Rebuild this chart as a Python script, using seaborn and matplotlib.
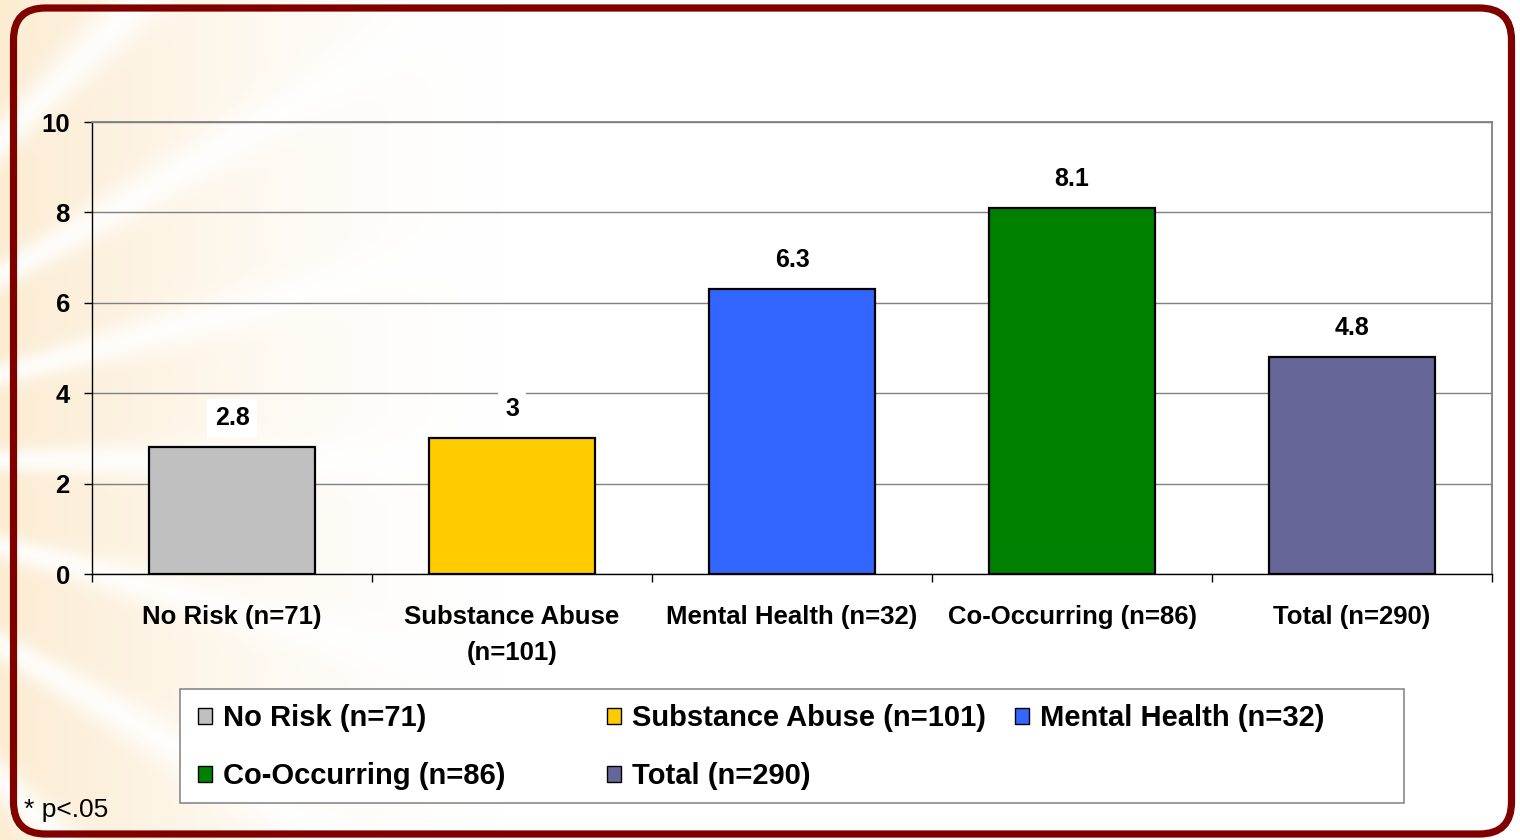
import numpy as np
import matplotlib
matplotlib.use("Agg")
import matplotlib.pyplot as plt
from matplotlib.patches import FancyBboxPatch, Rectangle, Patch
import seaborn as sns

# ---- data ----
categories = ["No Risk (n=71)", "Substance Abuse (n=101)", "Mental Health (n=32)",
              "Co-Occurring (n=86)", "Total (n=290)"]
tick_labels = ["No Risk (n=71)", "Substance Abuse\n(n=101)", "Mental Health (n=32)",
               "Co-Occurring (n=86)", "Total (n=290)"]
values = [2.8, 3, 6.3, 8.1, 4.8]
colors = ["#C0C0C0", "#FFCC00", "#3366FF", "#008000", "#666699"]
y_ticks = [0, 2, 4, 6, 8, 10]
footnote = "* p<.05"

sns.set_theme(style="white")
plt.rcParams["font.family"] = ["Liberation Sans", "DejaVu Sans"]
plt.rcParams["text.color"] = "black"
plt.rcParams["xtick.color"] = "black"
plt.rcParams["ytick.color"] = "black"

W, H = 1520, 840
fig = plt.figure(figsize=(W / 100, H / 100), dpi=100)

# ---- backdrop: warm sunburst on the left, framed by a rounded border ----
bg = fig.add_axes([0, 0, 1, 1], zorder=-10)
bg.set_xlim(0, W)
bg.set_ylim(H, 0)
bg.axis("off")

yy, xx = np.mgrid[0:H, 0:W].astype(float)
theta = np.arctan2(yy - 460, xx + 320)
rays = (0.5 + 0.5 * np.cos(theta * 24)) ** 5
fade = np.clip(1 - xx / 500, 0, 1) ** 1.5
warm = np.array([252, 236, 210]) / 255
amount = fade * (1 - 0.85 * rays)
img = 1 - amount[..., None] * (1 - warm)
bg.imshow(img, extent=(0, W, H, 0), aspect="auto", interpolation="bilinear")

bg.add_patch(FancyBboxPatch((13.5, 8), 1498, 826,
                            boxstyle="round,pad=0,rounding_size=32",
                            fill=False, edgecolor="#800000", linewidth=5.2))
bg.add_patch(Rectangle((180, 689), 1224, 114, facecolor="white",
                       edgecolor="#808080", linewidth=1.1))

# ---- bar chart ----
ax = fig.add_axes([92 / W, 1 - 574 / H, 1400 / W, 452 / H])
ax.patch.set_alpha(0)
ax.set_axisbelow(True)
sns.barplot(x=categories, y=values, hue=categories, palette=colors, saturation=1,
            width=0.59, edgecolor="black", linewidth=1.6, legend=False, ax=ax)

ax.set_xlim(-0.5, 4.5)
ax.set_ylim(0, 10)
ax.set_yticks(y_ticks)
ax.set_yticklabels([str(t) for t in y_ticks], fontsize=18.5, fontweight="bold")
ax.set_xticks(range(len(categories)))
ax.set_xticklabels(tick_labels, fontsize=18.5, fontweight="bold", linespacing=1.6)
ax.set_xticks(np.arange(-0.5, len(categories), 1), minor=True)
ax.set_xlabel("")
ax.set_ylabel("")

ax.tick_params(axis="x", which="major", length=0, pad=22.5, labelcolor="black")
ax.tick_params(axis="x", which="minor", bottom=True, length=6, width=1, color="black")
ax.tick_params(axis="y", left=True, length=6, width=1, color="black", pad=10,
               labelcolor="black")

ax.yaxis.grid(True, color="#808080", linewidth=1.0)
ax.xaxis.grid(False)
for side in ("left", "bottom"):
    ax.spines[side].set_color("black")
    ax.spines[side].set_linewidth(1.0)
for side in ("top", "right"):
    ax.spines[side].set_color("#808080")
    ax.spines[side].set_linewidth(1.3)

for i, v in enumerate(values):
    ax.annotate(f"{v:g}", xy=(i, v), xytext=(0, 29), textcoords="offset pixels",
                ha="center", va="center", fontsize=18, fontweight="bold", color="black",
                bbox=dict(boxstyle="square,pad=0.3", fc="white", ec="none"), zorder=5)

# ---- legend, three columns inside a shared box ----
col_x = [198, 607, 1015]
for c, x0 in enumerate(col_x):
    idx = [i for i in (c, c + 3) if i < len(categories)]
    handles = [Patch(facecolor=colors[i], edgecolor="black", linewidth=1.0) for i in idx]
    labels = [categories[i] for i in idx]
    fig.legend(handles, labels, loc="upper left", bbox_to_anchor=(x0 / W, 1 - 704 / H),
               frameon=False, borderpad=0, borderaxespad=0,
               prop={"size": 21, "weight": "bold"}, labelcolor="black",
               handlelength=0.48, handleheight=0.48, handletextpad=0.38,
               labelspacing=1.04)

fig.text(24 / W, 1 - 810 / H, footnote, fontsize=19, ha="left", va="center",
         color="black")

fig.savefig("out.png", dpi=100)
